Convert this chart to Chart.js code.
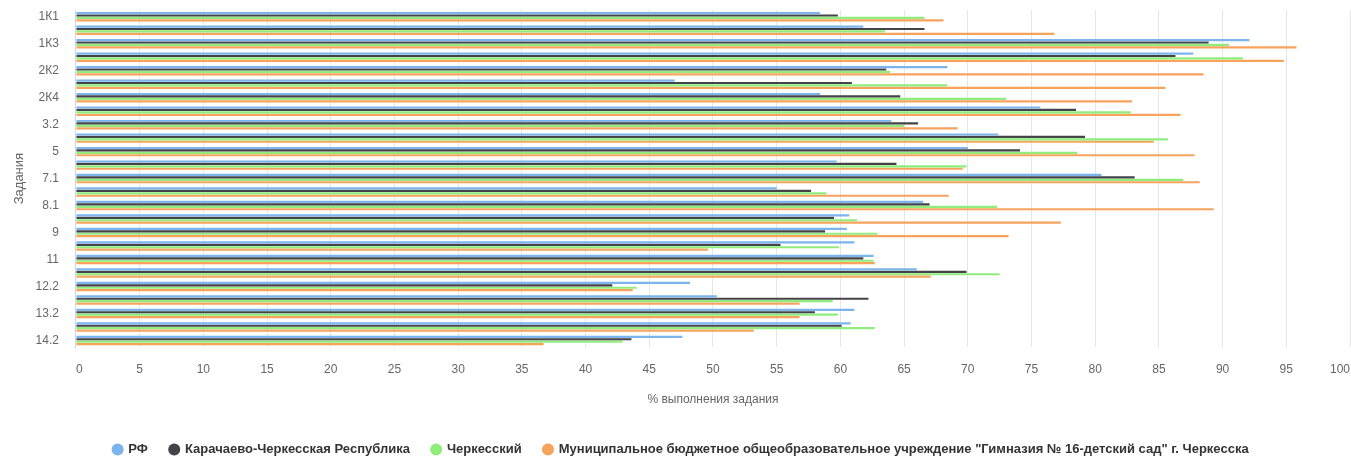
<!DOCTYPE html>
<html>
<head>
<meta charset="utf-8">
<script src="https://cdn.jsdelivr.net/npm/chart.js@4"></script>
<style>
  html, body { margin: 0; padding: 0; background: #fff; }
  #wrap { width: 1351px; height: 459px; }
</style>
</head>
<body>
<div id="wrap"><canvas id="chart"></canvas></div>
<script>
const tasks = ["1К1", "1К2", "1К3", "2К1", "2К2", "2К3", "2К4", "3.1", "3.2", "4", "5", "6", "7.1", "7.2", "8.1", "8.2", "9", "10", "11", "12.1", "12.2", "13.1", "13.2", "14.1", "14.2"];

const rf       = [58.4, 61.8, 92.1, 87.7, 68.4, 47.0, 58.4, 75.7, 64.0, 72.4, 70.0, 59.7, 80.5, 55.0, 66.5, 60.7, 60.5, 61.1, 62.6, 66.0, 48.2, 50.3, 61.1, 60.8, 47.6];
const kchr     = [59.8, 66.6, 88.9, 86.3, 63.6, 60.9, 64.7, 78.5, 66.1, 79.2, 74.1, 64.4, 83.1, 57.7, 67.0, 59.5, 58.8, 55.3, 61.8, 69.9, 42.1, 62.2, 58.0, 60.1, 43.6];
const cherk    = [66.6, 63.5, 90.5, 91.6, 63.9, 68.4, 73.0, 82.8, 65.0, 85.7, 78.6, 69.9, 86.9, 58.9, 72.3, 61.3, 62.9, 59.9, 62.6, 72.5, 44.0, 59.4, 59.8, 62.7, 42.9];
const gymnasia = [68.1, 76.8, 95.8, 94.8, 88.5, 85.5, 82.9, 86.7, 69.2, 84.6, 87.8, 69.6, 88.2, 68.5, 89.3, 77.3, 73.2, 49.6, 62.7, 67.1, 43.7, 56.8, 56.8, 53.2, 36.7];

const seriesNames = [
  "РФ",
  "Карачаево-Черкесская Республика",
  "Черкесский",
  "Муниципальное бюджетное общеобразовательное учреждение \"Гимназия № 16-детский сад\" г. Черкесска"
];
const colors = ["#7cb5ec", "#434348", "#90ed7d", "#f7a35c"];

const fontFamily = "'Liberation Sans', Arial, sans-serif";

const datasets = [rf, kchr, cherk, gymnasia].map((vals, i) => ({
  label: seriesNames[i],
  data: vals,
  backgroundColor: colors[i],
  borderWidth: 0,
  categoryPercentage: 0.72,
  barPercentage: 0.9
}));

new Chart(document.getElementById("chart"), {
  type: "bar",
  data: { labels: tasks, datasets: datasets },
  options: {
    indexAxis: "y",
    responsive: true,
    maintainAspectRatio: false,
    animation: false,
    layout: { padding: { top: 10, left: 12, right: 1, bottom: -7 } },
    plugins: {
      tooltip: { enabled: false },
      legend: {
        position: "bottom",
        labels: {
          usePointStyle: true,
          pointStyle: "circle",
          boxWidth: 8.5,
          boxHeight: 8.5,
          padding: 22,
          color: "#333333",
          font: { family: fontFamily, size: 13, weight: "bold" }
        }
      }
    },
    scales: {
      x: {
        min: 0,
        max: 100,
        ticks: {
          stepSize: 5,
          color: "#666666",
          padding: 0,
          align: "inner",
          font: { family: fontFamily, size: 12 }
        },
        grid: { color: "#e6e6e6", drawTicks: true, tickLength: 15, tickColor: "rgba(0,0,0,0)" },
        border: { display: false },
        title: {
          display: true,
          text: "% выполнения задания",
          color: "#666666",
          padding: { top: 16, bottom: 14 },
          font: { family: fontFamily, size: 12 }
        }
      },
      y: {
        ticks: {
          autoSkip: false,
          color: "#666666",
          padding: 0,
          font: { family: fontFamily, size: 12 },
          callback: function (value, index) {
            return index % 2 === 0 ? this.getLabelForValue(value) : "";
          }
        },
        grid: {
          display: true,
          drawOnChartArea: false,
          drawTicks: true,
          tickLength: 17,
          tickColor: "rgba(0,0,0,0)"
        },
        border: { display: true, color: "#ccd6eb" },
        title: {
          display: true,
          text: "Задания",
          color: "#666666",
          padding: { top: 0, bottom: 8 },
          font: { family: fontFamily, size: 13 }
        }
      }
    }
  }
});
</script>
</body>
</html>
